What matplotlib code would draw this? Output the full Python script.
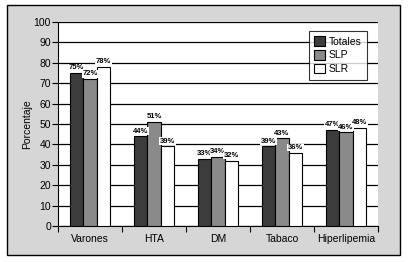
import numpy as np
import matplotlib
matplotlib.use('Agg')
import matplotlib.pyplot as plt
from matplotlib.patches import Rectangle

plt.rcParams['font.family'] = ['Liberation Sans', 'DejaVu Sans']

categories = ['Varones', 'HTA', 'DM', 'Tabaco', 'Hiperlipemia']
totales = [75, 44, 33, 39, 47]
slp = [72, 51, 34, 43, 46]
slr = [78, 39, 32, 36, 48]
series_names = ['Totales', 'SLP', 'SLR']
colors = ['#3c3c3c', '#8a8a8a', '#ffffff']

fig = plt.figure(figsize=(4.1, 2.62), dpi=100)
fig.patch.set_facecolor('white')
# grey panel with black border behind the chart
fig.patches.append(Rectangle((7 / 410, 1 - 255 / 262), 393 / 410, 250 / 262,
                             transform=fig.transFigure, facecolor='#d6d6d6',
                             edgecolor='black', linewidth=1.0, zorder=-10))

ax = fig.add_axes([58 / 410, 1 - 226 / 262, 320 / 410, 204 / 262])
ax.set_facecolor('white')

x = np.arange(len(categories))
w = 0.21
for i, (vals, c, name) in enumerate(zip([totales, slp, slr], colors, series_names)):
    pos = x + (i - 1) * w
    bars = ax.bar(pos, vals, width=w, color=c, edgecolor='black', linewidth=0.8,
                  label=name, zorder=3)
    for b, v in zip(bars, vals):
        ax.text(b.get_x() + b.get_width() / 2, v + 0.8, f'{v}%', ha='center',
                va='bottom', fontsize=5.5, fontweight='bold', zorder=4,
                bbox=dict(facecolor='white', edgecolor='none', pad=0.3))

ax.set_xlim(-0.5, len(categories) - 0.5)
ax.set_ylim(0, 100)
ax.set_yticks(range(0, 101, 10))
ax.yaxis.grid(True, color='black', linewidth=0.9, zorder=1)
ax.set_axisbelow(True)

ax.set_xticks(x)
ax.set_xticklabels(categories, fontsize=7.5)
ax.set_xticks(np.arange(-0.5, len(categories)), minor=True)
ax.tick_params(axis='x', which='major', length=0, pad=6)
ax.tick_params(axis='x', which='minor', length=4, width=0.8, direction='out')
ax.tick_params(axis='y', labelsize=7.5, length=4, width=0.8, pad=1)

for s in ['top', 'right']:
    ax.spines[s].set_visible(False)
ax.spines['left'].set_linewidth(0.8)
ax.spines['bottom'].set_linewidth(0.8)

ax.set_ylabel('Porcentaje', fontsize=7.5, labelpad=1)

leg = ax.legend(loc='upper right', bbox_to_anchor=(0.965, 0.955), fontsize=7.5,
                frameon=True, fancybox=False, edgecolor='black',
                handlelength=1.0, handleheight=1.0, handletextpad=0.4,
                borderpad=0.5, labelspacing=0.35, borderaxespad=0)
leg.get_frame().set_linewidth(0.8)
leg.set_zorder(5)

fig.savefig('out.png', dpi=100)
